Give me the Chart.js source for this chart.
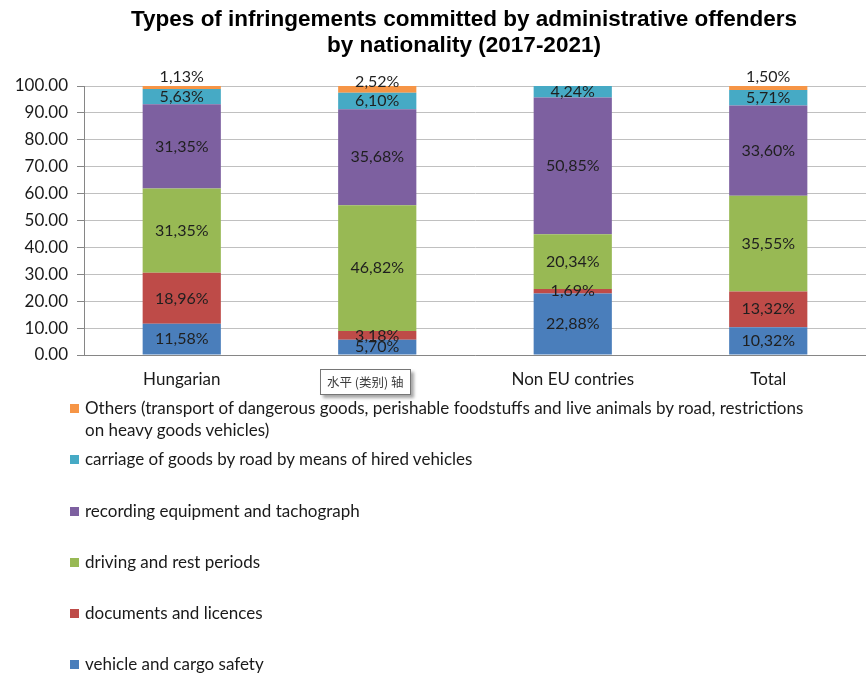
<!DOCTYPE html>
<html>
<head>
<meta charset="utf-8">
<script src="https://cdn.jsdelivr.net/npm/chart.js@4/dist/chart.umd.min.js"></script>
<style>
    body { margin: 0; background: #fff; }
    #wrap { position: relative; width: 866px; height: 675px; overflow: hidden; }
    #title { position: absolute; left: 31px; top: 6px; width: 866px; text-align: center; font-family: "Liberation Sans", Arial, sans-serif;
        font-weight: bold; font-size: 22.5px; line-height: 26px; color: #000; }
    #box { position: absolute; left: 0; top: 0; width: 866px; height: 400px; }
    #legend { position: absolute; left: 70px; top: 397px; width: 752px; font-family: Lato, sans-serif; font-size: 17px; color: #1a1a1a; }
    .item { position: relative; padding-left: 15px; line-height: 22px; height: 51.3px; }
    .item span { position: absolute; left: 0; top: 7px; width: 9px; height: 9px; }
    #tip { position: absolute; left: 320px; top: 369px; padding: 2px 6px 3px; background: #fff; border: 1px solid #767676;
        box-shadow: 3px 3px 3px rgba(0,0,0,.35); font-family: "Noto Sans CJK SC", sans-serif; font-size: 12.5px; color: #3b3b3b; }
</style>
</head>
<body>
<div id="wrap">
    <div id="box"><canvas id="barChart"></canvas></div>
    <div id="title">Types of infringements committed by administrative offenders<br>by nationality (2017-2021)</div>
    <div id="legend"></div>
    <div id="tip">水平 (类别) 轴</div>
</div>
<script>
// data
var categories = ["Hungarian", "EU", "Non EU contries", "Total"];
var seriesNames = [
    "vehicle and cargo safety",
    "documents and licences",
    "driving and rest periods",
    "recording equipment and tachograph",
    "carriage of goods by road by means of hired vehicles",
    "Others (transport of dangerous goods, perishable foodstuffs and live animals by road, restrictions on heavy goods vehicles)"
];
var vehicleSafety = [11.58, 5.70, 22.88, 10.32];
var documents = [18.96, 3.18, 1.69, 13.32];
var driving = [31.35, 46.82, 20.34, 35.55];
var recording = [31.35, 35.68, 50.85, 33.60];
var hiredVehicles = [5.63, 6.10, 4.24, 5.71];
var others = [1.13, 2.52, 0, 1.50];
var yTicks = [0, 10, 20, 30, 40, 50, 60, 70, 80, 90, 100];

var colors = ['#4A7EBB', '#BE4B48', '#98B954', '#7D60A0', '#46AAC5', '#F69546'];
var allSeries = [vehicleSafety, documents, driving, recording, hiredVehicles, others];

// value labels drawn in the middle of each segment
var segLabels = {
    id: 'segLabels',
    afterDatasetsDraw: function(chart) {
        var ctx = chart.ctx;
        ctx.save();
        ctx.font = '16px Lato';
        ctx.fillStyle = '#1f1f1f';
        ctx.textAlign = 'center';
        ctx.textBaseline = 'middle';
        chart.data.datasets.forEach(function(ds, i) {
            var meta = chart.getDatasetMeta(i);
            meta.data.forEach(function(bar, j) {
                var v = ds.data[j];
                if (!v) return;
                var shift = ds.labelShift ? ds.labelShift[j] : 0;
                var y = (bar.y + bar.base) / 2 + shift;
                ctx.fillText(v.toFixed(2).replace('.', ',') + '%', bar.x, y);
            });
        });
        ctx.restore();
    }
};

function chart() {
    var datasets = [];
    for (var i = 0; i < allSeries.length; i++) {
        datasets.push({
            label: seriesNames[i],
            data: allSeries[i],
            backgroundColor: colors[i],
            borderWidth: 0,
            categoryPercentage: 1,
            barPercentage: 0.4
        });
    }
    datasets[5].labelShift = [-11, -8, 0, -11];

    var ctxB = document.getElementById("barChart").getContext('2d');
    var myChart = new Chart(ctxB, {
        type: 'bar',
        data: { labels: categories, datasets: datasets },
        options: {
            responsive: true,
            maintainAspectRatio: false,
            animation: false,
            layout: { padding: { top: 86 } },
            plugins: {
                legend: { display: false },
                tooltip: { enabled: false }
            },
            scales: {
                x: {
                    stacked: true,
                    grid: { display: false, drawTicks: false },
                    border: { color: '#868686' },
                    ticks: { color: '#1a1a1a', font: { family: 'Lato', size: 17 }, padding: 14 },
                    afterFit: function(s) { s.height = 45; }
                },
                y: {
                    stacked: true,
                    min: 0,
                    max: 100,
                    afterBuildTicks: function(s) { s.ticks = yTicks.map(function(v) { return { value: v }; }); },
                    grid: { color: '#c0c0c0', tickColor: '#868686', tickLength: 7 },
                    border: { color: '#868686' },
                    ticks: {
                        color: '#1a1a1a', padding: 9,
                        font: { family: 'Lato', size: 17 },
                        callback: function(v) { return v.toFixed(2); }
                    },
                    afterFit: function(s) { s.width = 84; }
                }
            }
        },
        plugins: [segLabels]
    });
    return myChart;
}

function legend() {
    var div = document.getElementById("legend");
    for (var i = seriesNames.length - 1; i >= 0; i--) {
        var item = document.createElement('div');
        item.className = "item";
        var sw = document.createElement('span');
        sw.style.background = colors[i];
        item.appendChild(sw);
        item.appendChild(document.createTextNode(seriesNames[i]));
        div.appendChild(item);
    }
}

chart();
legend();
</script>
</body>
</html>
